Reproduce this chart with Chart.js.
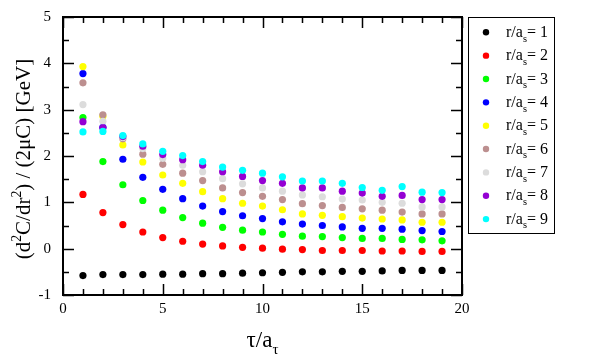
<!DOCTYPE html>
<html>
<head>
<meta charset="utf-8">
<script src="https://cdn.jsdelivr.net/npm/chart.js@4"></script>
<style>
html, body { margin: 0; padding: 0; background: #fff; }
#wrap { width: 595px; height: 359px; }
</style>
</head>
<body>
<div id="wrap"><canvas id="chart" width="595" height="359"></canvas></div>
<script>
// tau / a_tau values
const taus = [1, 2, 3, 4, 5, 6, 7, 8, 9, 10, 11, 12, 13, 14, 15, 16, 17, 18, 19];

// one array per r/a_s
const r1 = [-0.58, -0.56, -0.56, -0.56, -0.55, -0.55, -0.54, -0.54, -0.53, -0.52, -0.51, -0.50, -0.50, -0.49, -0.49, -0.48, -0.47, -0.47, -0.47];
const r2 = [1.17, 0.78, 0.52, 0.36, 0.24, 0.16, 0.10, 0.06, 0.03, 0.01, -0.01, -0.02, -0.04, -0.04, -0.04, -0.05, -0.05, -0.06, -0.06];
const r3 = [2.83, 1.88, 1.38, 1.04, 0.83, 0.67, 0.55, 0.46, 0.40, 0.36, 0.31, 0.27, 0.26, 0.24, 0.22, 0.22, 0.20, 0.19, 0.17];
const r4 = [3.78, 2.62, 1.93, 1.54, 1.28, 1.08, 0.92, 0.80, 0.71, 0.65, 0.58, 0.53, 0.50, 0.47, 0.44, 0.44, 0.42, 0.39, 0.37];
const r5 = [3.93, 2.86, 2.24, 1.87, 1.59, 1.41, 1.23, 1.08, 0.98, 0.92, 0.84, 0.75, 0.72, 0.69, 0.66, 0.64, 0.62, 0.57, 0.57];
const r6 = [3.58, 2.89, 2.37, 2.04, 1.82, 1.63, 1.47, 1.31, 1.21, 1.13, 1.06, 0.97, 0.93, 0.89, 0.86, 0.83, 0.79, 0.75, 0.75];
const r7 = [3.11, 2.75, 2.40, 2.16, 1.95, 1.80, 1.66, 1.51, 1.40, 1.31, 1.24, 1.16, 1.12, 1.07, 1.05, 1.00, 0.98, 0.90, 0.90];
const r8 = [2.74, 2.61, 2.42, 2.21, 2.03, 1.92, 1.80, 1.66, 1.56, 1.47, 1.41, 1.31, 1.31, 1.24, 1.20, 1.13, 1.15, 1.06, 1.06];
const r9 = [2.52, 2.53, 2.44, 2.26, 2.10, 2.01, 1.88, 1.76, 1.69, 1.63, 1.55, 1.46, 1.46, 1.41, 1.32, 1.26, 1.34, 1.22, 1.21];

const seriesValues = [r1, r2, r3, r4, r5, r6, r7, r8, r9];
const seriesNames = ['1', '2', '3', '4', '5', '6', '7', '8', '9'];
const seriesColors = ['#000000', '#ff0000', '#00ff00', '#0000ff', '#ffff00', '#bc8f8f', '#dcdcdc', '#9400d3', '#00ffff'];

const xTickLabels = [0, 5, 10, 15, 20];
const yTickLabels = [-1, 0, 1, 2, 3, 4, 5];

const SERIF = '"Liberation Serif", "DejaVu Serif", serif';

// draws a list of [text, kind] pieces, kind: '' normal, 'sub', 'sup'
function richWidth(ctx, parts, size) {
    let w = 0;
    parts.forEach(p => {
        ctx.font = (p[1] ? size * 0.65 : size) + 'px ' + SERIF;
        w += ctx.measureText(p[0]).width;
    });
    return w;
}
function drawRich(ctx, parts, x, y, size) {
    parts.forEach(p => {
        const small = p[1] ? size * 0.65 : size;
        ctx.font = small + 'px ' + SERIF;
        let dy = 0;
        if (p[1] === 'sub') dy = size * 0.3;
        if (p[1] === 'sup') dy = -size * 0.42;
        ctx.fillText(p[0], x, y + dy);
        x += ctx.measureText(p[0]).width;
    });
}

const framePlugin = {
    id: 'frame',
    afterDraw(chart) {
        const ctx = chart.ctx;
        const a = chart.chartArea;
        const xs = chart.scales.x;
        const ys = chart.scales.y;
        ctx.save();
        ctx.strokeStyle = '#000';
        ctx.fillStyle = '#000';

        // ticks
        ctx.lineWidth = 1.5;
        ctx.beginPath();
        for (let v = 0; v <= 20; v++) {
            const px = Math.round(xs.getPixelForValue(v)) + 0.5;
            const len = v % 5 === 0 ? 11 : 6;
            ctx.moveTo(px, a.bottom); ctx.lineTo(px, a.bottom - len);
            ctx.moveTo(px, a.top); ctx.lineTo(px, a.top + len);
        }
        for (let v = -1; v <= 5; v += 0.5) {
            const py = Math.round(ys.getPixelForValue(v)) + 0.5;
            const len = Number.isInteger(v) ? 11 : 6;
            ctx.moveTo(a.left, py); ctx.lineTo(a.left + len, py);
            ctx.moveTo(a.right, py); ctx.lineTo(a.right - len, py);
        }
        ctx.stroke();

        // frame
        ctx.lineWidth = 2;
        ctx.strokeRect(a.left, a.top, a.right - a.left, a.bottom - a.top);

        // tick labels
        ctx.font = '15px ' + SERIF;
        ctx.textAlign = 'center';
        ctx.textBaseline = 'top';
        xTickLabels.forEach(v => ctx.fillText(String(v), xs.getPixelForValue(v), a.bottom + 7));
        ctx.textAlign = 'right';
        ctx.textBaseline = 'middle';
        yTickLabels.forEach(v => ctx.fillText(String(v), a.left - 12, ys.getPixelForValue(v)));

        // axis titles
        ctx.textAlign = 'left';
        ctx.textBaseline = 'alphabetic';
        const xt = [['τ/a', ''], ['τ', 'sub']];
        const xw = richWidth(ctx, xt, 23);
        drawRich(ctx, xt, (a.left + a.right) / 2 - xw / 2, 347, 23);

        const yt = [['(d', ''], ['2', 'sup'], ['C/dr', ''], ['2', 'sup'], [') / (2μC) [GeV]', '']];
        const yw = richWidth(ctx, yt, 21);
        ctx.save();
        ctx.translate(30, (a.top + a.bottom) / 2 + 3);
        ctx.rotate(-Math.PI / 2);
        drawRich(ctx, yt, -yw / 2, 0, 21);
        ctx.restore();

        // legend
        ctx.lineWidth = 1;
        ctx.strokeRect(468.5, 17.5, 86, 216);
        seriesNames.forEach((n, i) => {
            const cy = 32.3 + i * 23.35;
            ctx.fillStyle = seriesColors[i];
            ctx.beginPath();
            ctx.arc(486, cy, 3.2, 0, Math.PI * 2);
            ctx.fill();
            ctx.fillStyle = '#000';
            drawRich(ctx, [['r/a', ''], ['s', 'sub'], ['= ' + n, '']], 506, cy + 4.5, 16);
        });
        ctx.restore();
    }
};

const datasets = seriesValues.map((vals, i) => ({
    label: 'r/a_s = ' + seriesNames[i],
    data: taus.map((t, k) => ({ x: t, y: vals[k] })),
    backgroundColor: seriesColors[i],
    borderWidth: 0,
    pointRadius: 3.6,
    order: seriesValues.length - i
}));

new Chart(document.getElementById('chart').getContext('2d'), {
    type: 'scatter',
    data: { datasets },
    options: {
        responsive: false,
        animation: false,
        layout: { padding: { left: 63, right: 133, top: 17, bottom: 64 } },
        scales: {
            x: { type: 'linear', min: 0, max: 20, display: false },
            y: { type: 'linear', min: -1, max: 5, display: false }
        },
        plugins: { legend: { display: false }, tooltip: { enabled: false } }
    },
    plugins: [framePlugin]
});
</script>
</body>
</html>
